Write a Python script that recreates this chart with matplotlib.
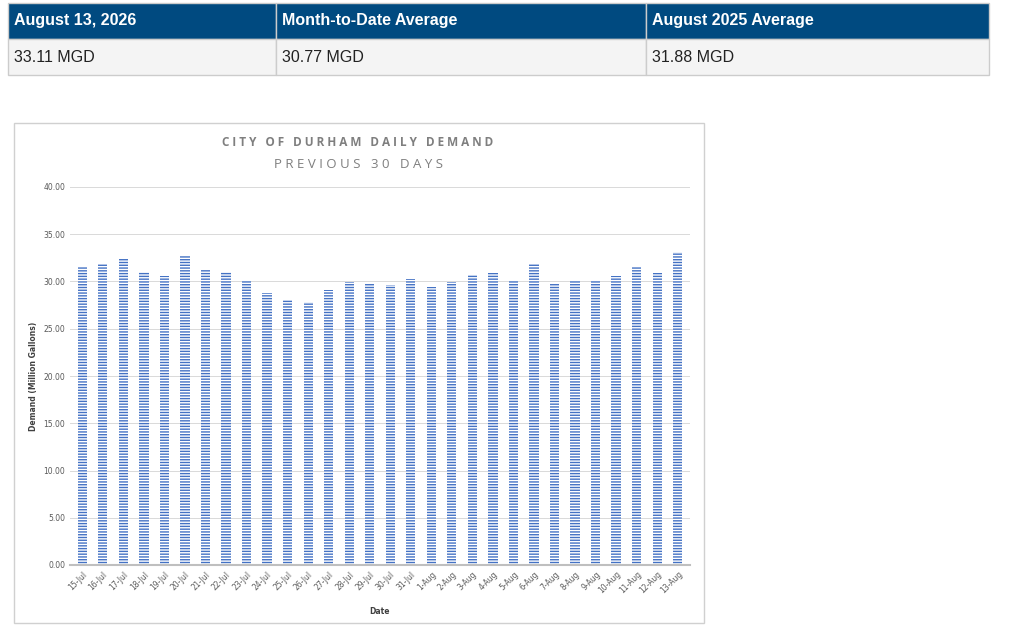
import matplotlib
matplotlib.use('Agg')
import matplotlib.pyplot as plt
from matplotlib.patches import Rectangle

dates = ['15-Jul', '16-Jul', '17-Jul', '18-Jul', '19-Jul', '20-Jul', '21-Jul', '22-Jul',
         '23-Jul', '24-Jul', '25-Jul', '26-Jul', '27-Jul', '28-Jul', '29-Jul', '30-Jul',
         '31-Jul', '1-Aug', '2-Aug', '3-Aug', '4-Aug', '5-Aug', '6-Aug', '7-Aug', '8-Aug',
         '9-Aug', '10-Aug', '11-Aug', '12-Aug', '13-Aug']
demand = [31.5, 31.85, 32.4, 31.0, 30.6, 32.8, 31.2, 31.0, 30.2, 28.8, 28.0, 27.8,
          29.1, 29.9, 29.8, 29.6, 30.3, 29.4, 29.9, 30.7, 30.9, 30.2, 31.85, 29.8,
          30.0, 30.2, 30.6, 31.6, 30.9, 33.11]

headers = ['August 13, 2026', 'Month-to-Date Average', 'August 2025 Average']
cells = ['33.11 MGD', '30.77 MGD', '31.88 MGD']
col_edges = [8, 276, 646, 989]

W, H = 1018, 637
fig = plt.figure(figsize=(W / 100, H / 100), dpi=100)


def box(x0, y0, x1, y1, fc, ec):
    fig.patches.append(Rectangle((x0 / W, 1 - y1 / H), (x1 - x0) / W, (y1 - y0) / H,
                                 transform=fig.transFigure, facecolor=fc, edgecolor=ec,
                                 lw=1, zorder=-1))


# summary table
for i in range(3):
    x0, x1 = col_edges[i], col_edges[i + 1]
    box(x0, 3, x1, 39, '#004a80', '#cccccc')
    box(x0, 39, x1, 75, '#f4f4f4', '#cccccc')
    fig.text((x0 + 6) / W, 1 - 21 / H, headers[i], color='white', fontsize=11.5,
             family='Liberation Sans', va='center', fontweight='bold')
    fig.text((x0 + 6) / W, 1 - 57 / H, cells[i], color='#222222', fontsize=11.5,
             family='Liberation Sans', va='center')

# chart frame
box(14, 123, 704, 623, 'white', '#d0d0d0')
fig.text(358 / W, 1 - 143 / H, 'C I T Y   O F   D U R H A M   D A I L Y   D E M A N D',
         ha='center', va='center', fontsize=8.5, color='#7f7f7f', fontweight='bold',
         family='Open Sans')
fig.text(358 / W, 1 - 165 / H, 'P R E V I O U S   3 0   D A Y S', ha='center', va='center',
         fontsize=9.5, color='#7f7f7f', family='Open Sans')

ax = fig.add_axes([70 / W, 1 - 565 / H, 620 / W, 378 / H])
ax.patch.set_alpha(0)
ax.bar(range(len(dates)), demand, width=0.45, facecolor='white', edgecolor='#4472c4',
       hatch='------', linewidth=0)
ax.set_ylim(0, 40)
ax.set_xlim(-0.6, len(dates) - 0.4)
ax.set_yticks(range(0, 41, 5))
ax.set_yticklabels([f'{v:.2f}' for v in range(0, 41, 5)], fontsize=5.5, color='#595959')
ax.set_xticks(range(len(dates)))
ax.set_xticklabels(dates, rotation=45, ha='right', rotation_mode='anchor', fontsize=5.5,
                   color='#595959')
ax.tick_params(length=0)
ax.grid(axis='y', color='#d9d9d9', lw=0.7)
ax.set_axisbelow(True)
for s in ['top', 'right', 'left']:
    ax.spines[s].set_visible(False)
ax.spines['bottom'].set_color('#bfbfbf')
ax.spines['bottom'].set_linewidth(1.5)
ax.set_ylabel('Demand (Million Gallons)', fontsize=5.5, color='#404040', fontweight='bold')
ax.set_xlabel('Date', fontsize=5.5, color='#404040', fontweight='bold', labelpad=8)

fig.savefig('out.png', dpi=100)
